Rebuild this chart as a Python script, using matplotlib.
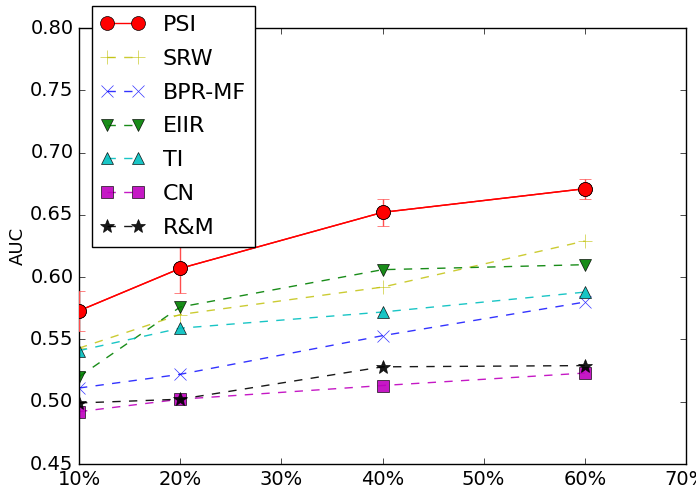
import matplotlib
matplotlib.use("Agg")
import matplotlib.pyplot as plt
from matplotlib.ticker import FuncFormatter

plt.style.use("classic")

# x positions (percent of training data)
x = [10, 20, 40, 60]

# AUC values per method
psi = [0.573, 0.607, 0.652, 0.671]
psi_err = [0.016, 0.020, 0.011, 0.008]
srw = [0.543, 0.570, 0.592, 0.629]
bpr_mf = [0.511, 0.522, 0.553, 0.580]
eiir = [0.520, 0.576, 0.606, 0.610]
ti = [0.541, 0.559, 0.572, 0.588]
cn = [0.492, 0.502, 0.513, 0.523]
rm = [0.499, 0.502, 0.528, 0.529]

fig = plt.figure(figsize=(6.96, 4.91), dpi=100, facecolor="white")
ax = fig.add_axes([79 / 696, 1 - 464 / 491, 607 / 696, 436 / 491])

ax.errorbar(x, psi, yerr=psi_err, color="r", ecolor=(1, 0.3, 0.3), marker="o",
            markersize=10, linestyle="-", capsize=4, zorder=3)
h_psi, = ax.plot(x, psi, "ro-", markersize=10, label="PSI", zorder=4)
# dashed baselines, slightly faded like the original
h_srw, = ax.plot(x, srw, "y+--", markersize=10, alpha=0.8, label="SRW")
h_bpr, = ax.plot(x, bpr_mf, "bx--", markersize=9, alpha=0.8, label="BPR-MF")
h_eiir, = ax.plot(x, eiir, "gv--", markersize=9, alpha=0.9, label="EIIR")
h_ti, = ax.plot(x, ti, "c^--", markersize=9, alpha=0.9, label="TI")
h_cn, = ax.plot(x, cn, "ms--", markersize=9, alpha=0.9, label="CN")
h_rm, = ax.plot(x, rm, "k*--", markersize=10, alpha=0.9, label="R&M")

ax.set_xlim(10, 70)
ax.set_ylim(0.45, 0.80)
ax.xaxis.set_major_formatter(FuncFormatter(lambda v, p: f"{int(v)}%"))
ax.tick_params(labelsize=14)
ax.set_ylabel("AUC", fontsize=13, labelpad=2)

ax.legend(handles=[h_psi, h_srw, h_bpr, h_eiir, h_ti, h_cn, h_rm],
          loc="upper left", bbox_to_anchor=(0.021, 1.05), borderaxespad=0,
          fontsize=16, numpoints=2, labelspacing=0.62)

fig.savefig("out.png", dpi=100)
